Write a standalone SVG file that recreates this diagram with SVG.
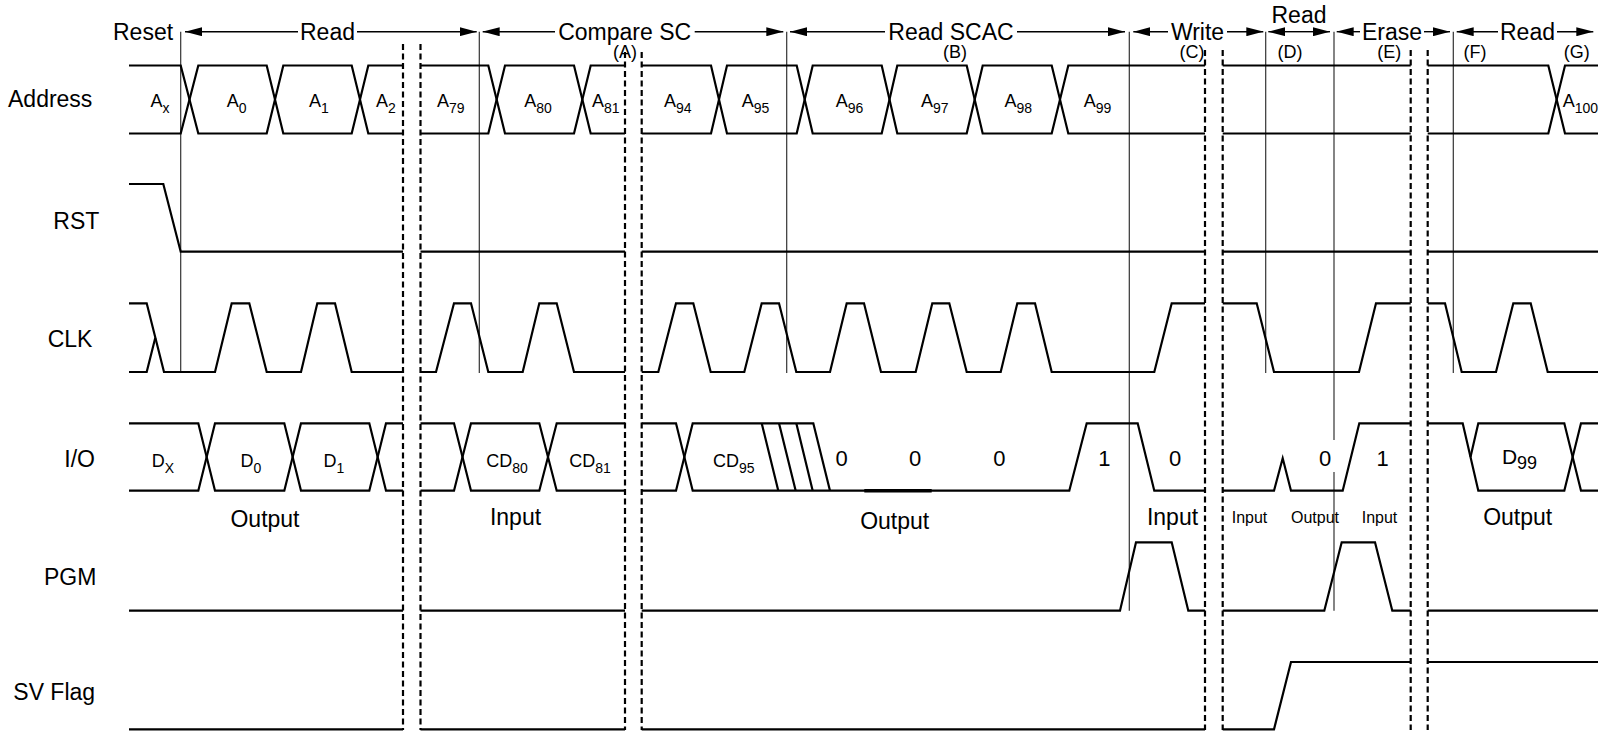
<svg xmlns="http://www.w3.org/2000/svg" width="1600" height="734" viewBox="0 0 1600 734">
<defs>
<marker id="ah" markerUnits="userSpaceOnUse" markerWidth="17" markerHeight="9" refX="17" refY="4.5" orient="auto">
<path d="M0,0 L17,4.5 L0,9 z" fill="#000"/>
</marker>
<style>
.w{fill:none;stroke:#000;stroke-width:2.2;stroke-linejoin:miter}
.d{fill:none;stroke:#000;stroke-width:2.2;stroke-dasharray:6 3.5}
.v{fill:none;stroke:#333;stroke-width:1.2}
.a{fill:none;stroke:#000;stroke-width:1.4;marker-end:url(#ah)}
text{font-family:"Liberation Sans",Arial,Helvetica,sans-serif;fill:#000}
.lbl{font-size:23px}
.hdr{font-size:23px;text-anchor:middle}
.ph{font-size:18px;text-anchor:middle}
.val{font-size:18px;text-anchor:middle}
.sub{font-size:14px}
.num{font-size:22px;text-anchor:middle}
.io{font-size:23px;text-anchor:middle}
.ios{font-size:16px;text-anchor:middle}
</style>
</defs>
<rect width="1600" height="734" fill="#fff"/>

<g id="row-labels">
<text class="lbl" x="8" y="107">Address</text>
<text class="lbl" x="53.3" y="229.3">RST</text>
<text class="lbl" x="47.7" y="346.7">CLK</text>
<text class="lbl" x="64.3" y="466.7">I/O</text>
<text class="lbl" x="44" y="585">PGM</text>
<text class="lbl" x="13.3" y="700">SV Flag</text>
</g>

<g id="header">
<text class="lbl" x="113" y="40">Reset</text>
<text class="hdr" x="327.5" y="40">Read</text>
<text class="hdr" x="624.7" y="40">Compare SC</text>
<text class="hdr" x="951" y="40">Read SCAC</text>
<text class="hdr" x="1197.5" y="40">Write</text>
<text class="hdr" x="1299" y="23.3">Read</text>
<text class="hdr" x="1392" y="40">Erase</text>
<text class="hdr" x="1527.5" y="40">Read</text>
<text class="ph" x="625" y="58">(A)</text>
<text class="ph" x="955" y="58">(B)</text>
<text class="ph" x="1192" y="58">(C)</text>
<text class="ph" x="1290" y="58">(D)</text>
<text class="ph" x="1389.3" y="58">(E)</text>
<text class="ph" x="1475" y="58">(F)</text>
<text class="ph" x="1576.7" y="58">(G)</text>
</g>

<g id="connectors">
<line class="a" x1="298" y1="31.7" x2="185" y2="31.7"/>
<line class="a" x1="357" y1="31.7" x2="476.7" y2="31.7"/>
<line class="a" x1="555" y1="31.7" x2="482.7" y2="31.7"/>
<line class="a" x1="694.7" y1="31.7" x2="783.3" y2="31.7"/>
<line class="a" x1="885" y1="31.7" x2="790" y2="31.7"/>
<line class="a" x1="1017" y1="31.7" x2="1125" y2="31.7"/>
<line class="a" x1="1168" y1="31.7" x2="1133.3" y2="31.7"/>
<line class="a" x1="1227" y1="31.7" x2="1263.3" y2="31.7"/>
<line class="a" x1="1299" y1="31.7" x2="1268.3" y2="31.7"/>
<line class="a" x1="1299" y1="31.7" x2="1330" y2="31.7"/>
<line class="a" x1="1360" y1="31.7" x2="1336.7" y2="31.7"/>
<line class="a" x1="1424" y1="31.7" x2="1450" y2="31.7"/>
<line class="a" x1="1498" y1="31.7" x2="1456.7" y2="31.7"/>
<line class="a" x1="1557" y1="31.7" x2="1593.3" y2="31.7"/>
</g>

<g id="markers">
<line class="v" x1="180.7" y1="31.7" x2="180.7" y2="373"/>
<line class="v" x1="479.3" y1="31.7" x2="479.3" y2="373"/>
<line class="v" x1="786.7" y1="31.7" x2="786.7" y2="373"/>
<line class="v" x1="1129.3" y1="31.7" x2="1129.3" y2="610.7"/>
<line class="v" x1="1265.7" y1="31.7" x2="1265.7" y2="373"/>
<line class="v" x1="1334" y1="31.7" x2="1334" y2="440"/>
<line class="v" x1="1334" y1="472" x2="1334" y2="610.7"/>
<line class="v" x1="1453.3" y1="31.7" x2="1453.3" y2="373"/>
</g>

<g id="breaks">
<line class="d" x1="403" y1="44" x2="403" y2="730"/>
<line class="d" x1="420.5" y1="44" x2="420.5" y2="730"/>
<line class="d" x1="625" y1="52" x2="625" y2="730"/>
<line class="d" x1="641.7" y1="52" x2="641.7" y2="730"/>
<line class="d" x1="1205" y1="50" x2="1205" y2="730"/>
<line class="d" x1="1222.7" y1="50" x2="1222.7" y2="730"/>
<line class="d" x1="1410.7" y1="50" x2="1410.7" y2="730"/>
<line class="d" x1="1427.7" y1="50" x2="1427.7" y2="730"/>
</g>

<g id="address">
<path class="w" d="M129,65.5 H180.7 L198.3,133.5 H266.7 L283.3,65.5 H351.7 L368.3,133.5 H403"/>
<path class="w" d="M129,133.5 H180.7 L198.3,65.5 H266.7 L283.3,133.5 H351.7 L368.3,65.5 H403"/>
<path class="w" d="M420.5,65.5 H488.3 L505,133.5 H574 L590.7,65.5 H625"/>
<path class="w" d="M420.5,133.5 H488.3 L505,65.5 H574 L590.7,133.5 H625"/>
<path class="w" d="M641.7,65.5 H711 L727,133.5 H796.7 L812.7,65.5 H881.7 L897.3,133.5 H966.7 L982.7,65.5 H1051.7 L1068.3,133.5 H1205"/>
<path class="w" d="M641.7,133.5 H711 L727,65.5 H796.7 L812.7,133.5 H881.7 L897.3,65.5 H966.7 L982.7,133.5 H1051.7 L1068.3,65.5 H1205"/>
<path class="w" d="M1222.7,65.5 H1410.7 M1222.7,133.5 H1410.7"/>
<path class="w" d="M1427.7,65.5 H1548.3 L1565,133.5 H1598"/>
<path class="w" d="M1427.7,133.5 H1548.3 L1565,65.5 H1598"/>
<text class="val" x="160" y="106.7">A<tspan class="sub" dy="6">x</tspan></text>
<text class="val" x="236.7" y="106.7">A<tspan class="sub" dy="6">0</tspan></text>
<text class="val" x="319" y="106.7">A<tspan class="sub" dy="6">1</tspan></text>
<text class="val" x="386" y="106.7">A<tspan class="sub" dy="6">2</tspan></text>
<text class="val" x="450.8" y="106.7">A<tspan class="sub" dy="6">79</tspan></text>
<text class="val" x="538" y="106.7">A<tspan class="sub" dy="6">80</tspan></text>
<text class="val" x="605.7" y="106.7">A<tspan class="sub" dy="6">81</tspan></text>
<text class="val" x="677.8" y="106.7">A<tspan class="sub" dy="6">94</tspan></text>
<text class="val" x="755.5" y="106.7">A<tspan class="sub" dy="6">95</tspan></text>
<text class="val" x="849.5" y="106.7">A<tspan class="sub" dy="6">96</tspan></text>
<text class="val" x="934.8" y="106.7">A<tspan class="sub" dy="6">97</tspan></text>
<text class="val" x="1018.2" y="106.7">A<tspan class="sub" dy="6">98</tspan></text>
<text class="val" x="1097.5" y="106.7">A<tspan class="sub" dy="6">99</tspan></text>
<text style="font-size:18px" x="1562.7" y="106.7">A<tspan class="sub" dy="6">100</tspan></text>
</g>

<g id="rst">
<path class="w" d="M129,184 H163.3 L180.7,251.7 H403"/>
<path class="w" d="M420.5,251.7 H625 M641.7,251.7 H1205 M1222.7,251.7 H1410.7 M1427.7,251.7 H1598"/>
</g>

<g id="clk">
<path class="w" d="M129,303.3 H146.7 L164,372 H215 L231.7,303.3 H249.3 L266.7,372 H301 L317.3,303.3 H335 L351.7,372 H403"/>
<path class="w" d="M129,372 H146.7 L155.3,337.7"/>
<path class="w" d="M420.5,372 H436 L454,303.3 H471 L488.3,372 H522.7 L539.3,303.3 H556.7 L574,372 H625"/>
<path class="w" d="M641.7,372 H658.3 L676,303.3 H693.3 L710.7,372 H744.3 L761.7,303.3 H779 L796.3,372 H830 L846.7,303.3 H864 L881,372 H915.7 L932.3,303.3 H949.3 L966.7,372 H1000.7 L1017.3,303.3 H1035 L1051.7,372 H1154.3 L1171.7,303.3 H1205"/>
<path class="w" d="M1222.7,303.3 H1256.7 L1274,372 H1359 L1376,303.3 H1410.7"/>
<path class="w" d="M1427.7,303.3 H1445 L1461.7,372 H1496 L1513.3,303.3 H1530.7 L1547.7,372 H1598"/>
</g>

<g id="io">
<path class="w" d="M129,423.3 H198.3 L215,490.7 H284.3 L301,423.3 H369.3 L386,490.7 H403"/>
<path class="w" d="M129,490.7 H198.3 L215,423.3 H284.3 L301,490.7 H369.3 L386,423.3 H403"/>
<path class="w" d="M420.5,423.3 H454 L471,490.7 H539.3 L556.7,423.3 H625"/>
<path class="w" d="M420.5,490.7 H454 L471,423.3 H539.3 L556.7,490.7 H625"/>
<path class="w" d="M641.7,423.3 H676 L692.7,490.7 H1069.3 L1086.7,423.3 H1137.7 L1154.3,490.7 H1205"/>
<path class="w" d="M641.7,490.7 H676 L692.7,423.3 H813.3 L830,490.7"/>
<path class="w" d="M761.7,423.3 L778.3,490.7 M779,423.3 L795.7,490.7 M796.3,423.3 L812.7,490.7"/>
<line x1="864.3" y1="490.7" x2="931.7" y2="490.7" stroke="#000" stroke-width="3.4"/>
<path class="w" d="M1222.7,490.7 H1274 L1282.7,458.3 L1291,490.7 H1342.7 L1359.3,423.3 H1410.7"/>
<path class="w" d="M1427.7,423.3 H1462.7 L1478.3,490.7 H1564.3 L1581,423.3 H1598"/>
<path class="w" d="M1470.5,457 L1478.3,423.3 H1564.3 L1581,490.7 H1598"/>
<text class="val" x="163" y="467.3">D<tspan class="sub" dy="6">X</tspan></text>
<text class="val" x="251" y="467.3">D<tspan class="sub" dy="6">0</tspan></text>
<text class="val" x="334" y="467.3">D<tspan class="sub" dy="6">1</tspan></text>
<text class="val" x="507" y="467.3">CD<tspan class="sub" dy="6">80</tspan></text>
<text class="val" x="590" y="467.3">CD<tspan class="sub" dy="6">81</tspan></text>
<text class="val" x="733.7" y="467.3">CD<tspan class="sub" dy="6">95</tspan></text>
<text class="num" x="841.7" y="466">0</text>
<text class="num" x="915" y="466">0</text>
<text class="num" x="999.3" y="466">0</text>
<text class="num" x="1104.3" y="466">1</text>
<text class="num" x="1175" y="466">0</text>
<text class="num" x="1325" y="466">0</text>
<text class="num" x="1382.7" y="466">1</text>
<text style="font-size:21px;text-anchor:middle" x="1519.5" y="463.5">D<tspan style="font-size:18px" dy="5">99</tspan></text>
<text class="io" x="265" y="527">Output</text>
<text class="io" x="515.5" y="525">Input</text>
<text class="io" x="894.7" y="529">Output</text>
<text class="io" x="1172.5" y="525">Input</text>
<text class="ios" x="1249.5" y="522.7">Input</text>
<text class="ios" x="1315" y="522.7">Output</text>
<text class="ios" x="1379.5" y="522.7">Input</text>
<text class="io" x="1517.7" y="525">Output</text>
</g>

<g id="pgm">
<path class="w" d="M129,610.7 H403 M420.5,610.7 H625"/>
<path class="w" d="M641.7,610.7 H1120 L1136,542.3 H1171.7 L1188.3,610.7 H1205"/>
<path class="w" d="M1222.7,610.7 H1324.3 L1341.7,542.3 H1375 L1392.3,610.7 H1410.7"/>
<path class="w" d="M1427.7,610.7 H1598"/>
</g>

<g id="svflag">
<path class="w" d="M129,729.3 H403 M420.5,729.3 H625 M641.7,729.3 H1205"/>
<path class="w" d="M1222.7,729.3 H1274 L1291,662 H1410.7"/>
<path class="w" d="M1427.7,662 H1598"/>
</g>
</svg>
